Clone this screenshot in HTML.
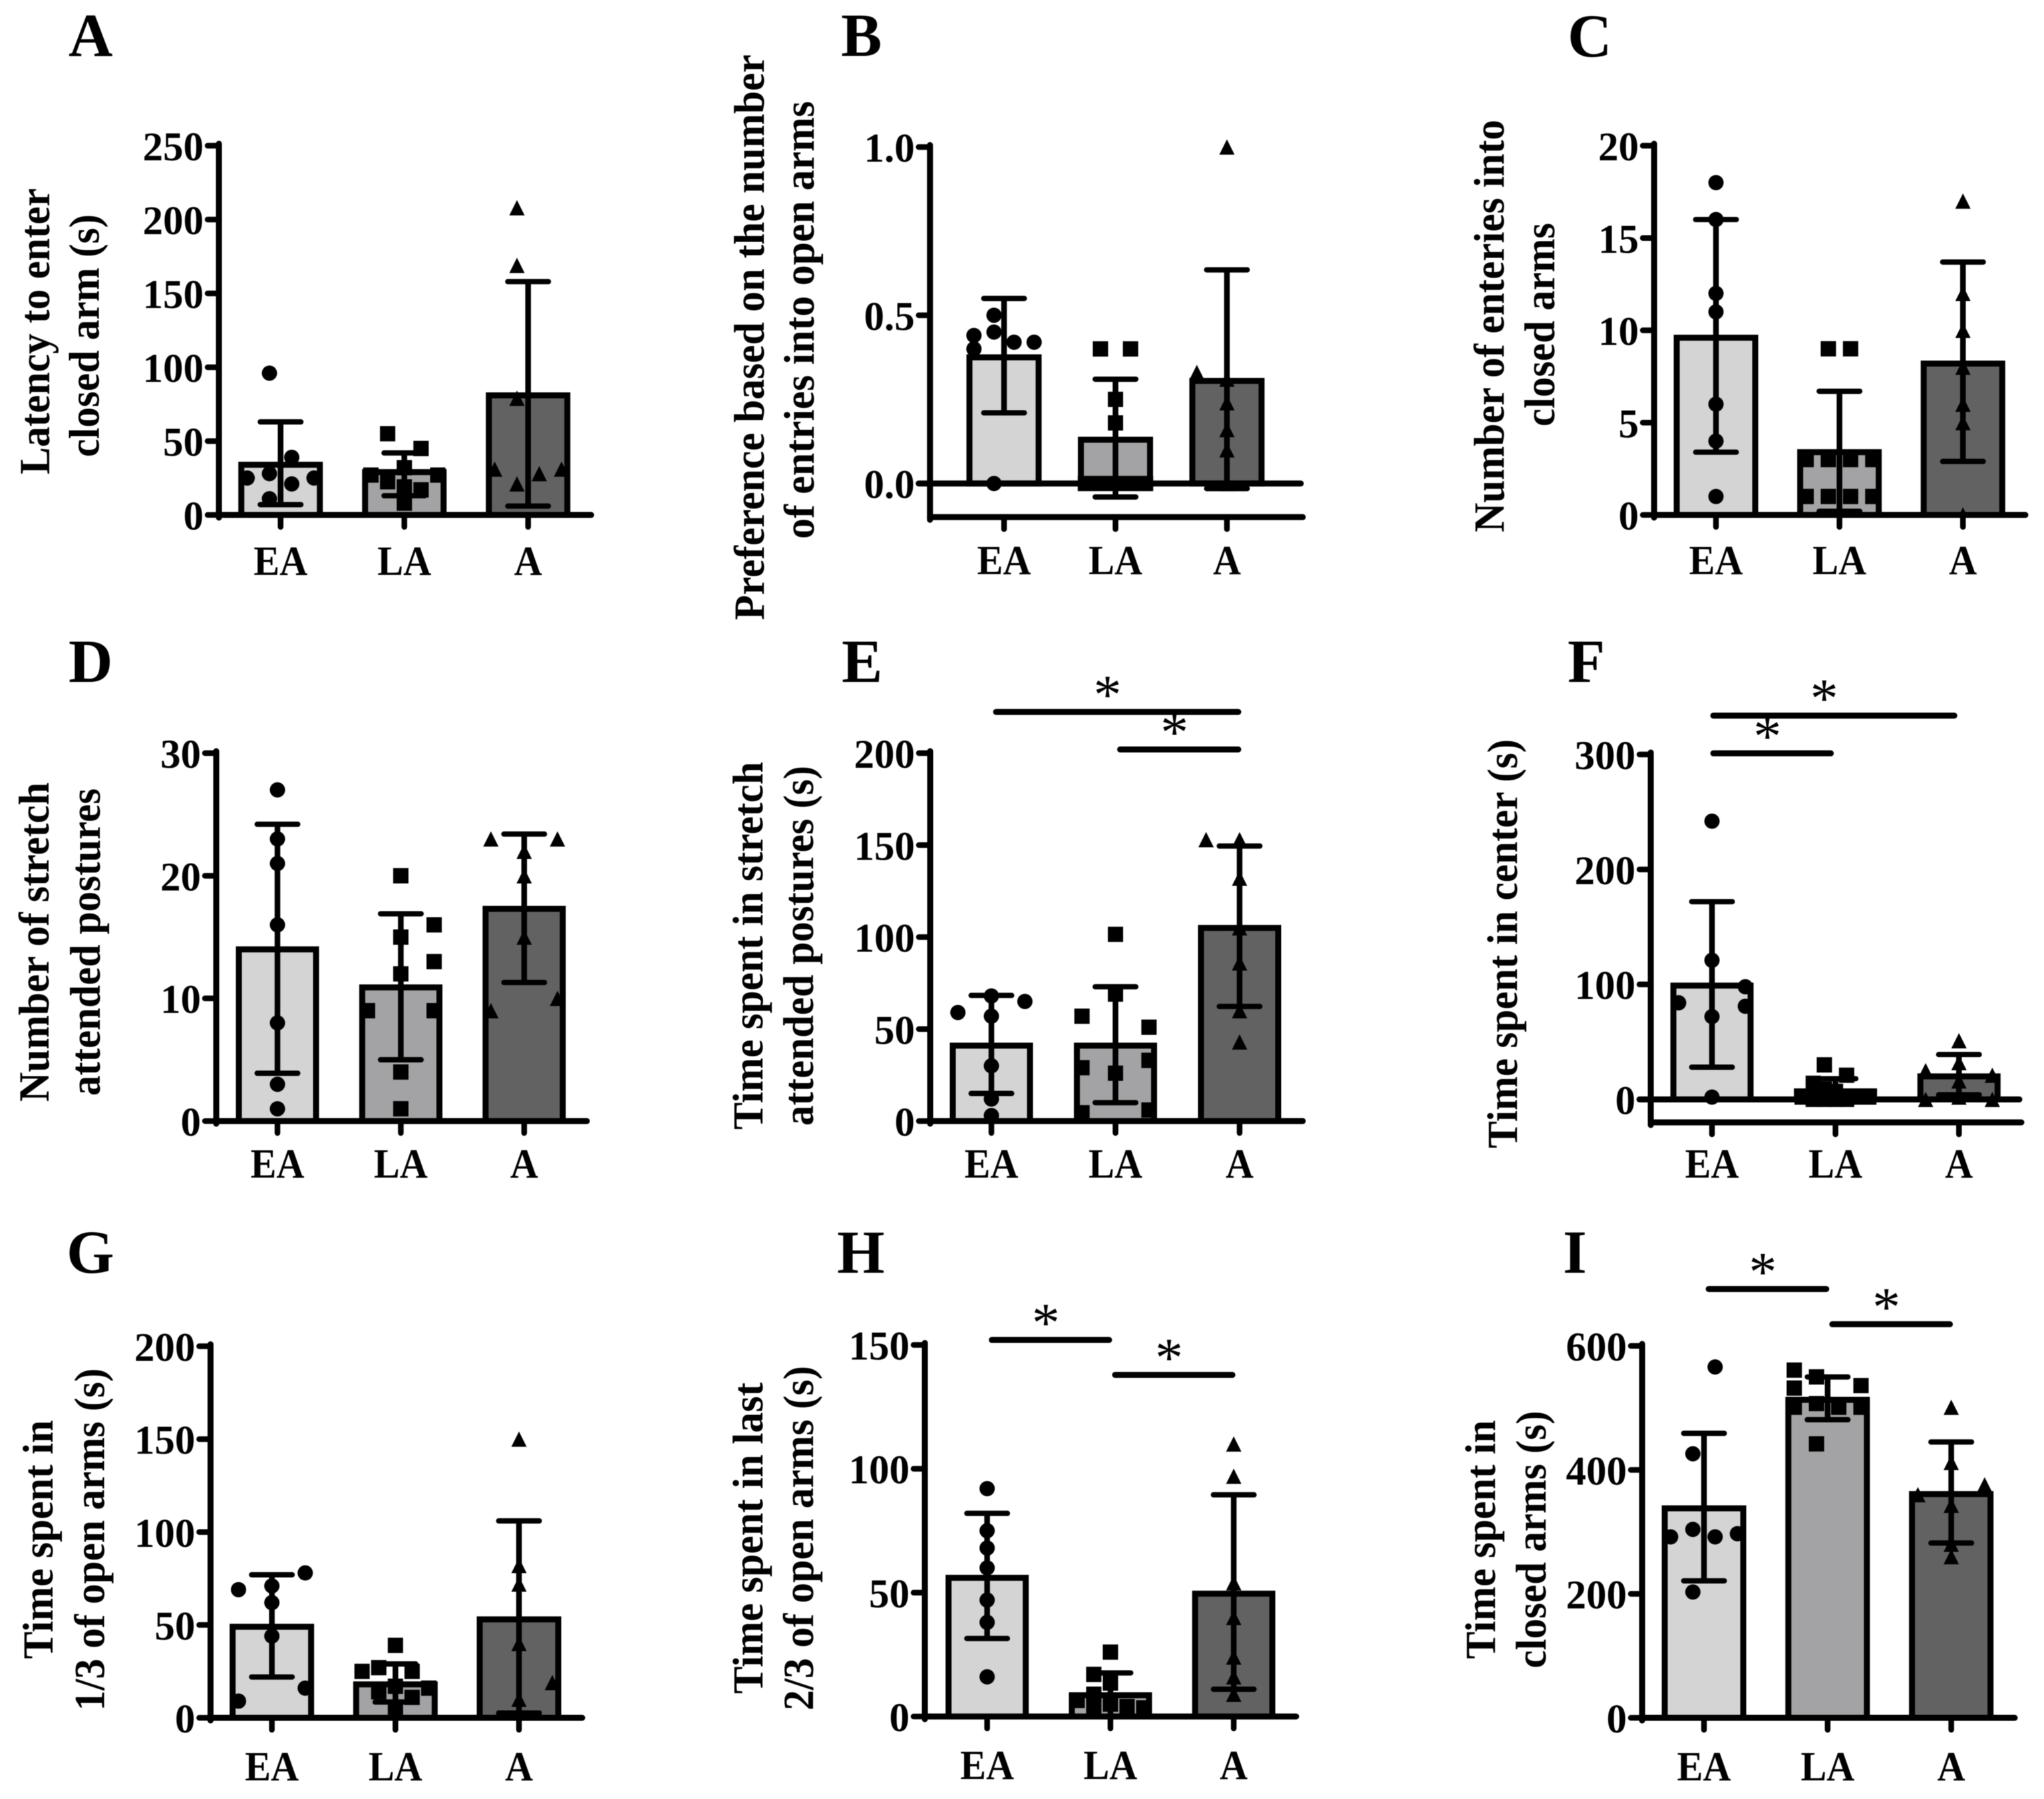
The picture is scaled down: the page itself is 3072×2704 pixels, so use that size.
<!DOCTYPE html>
<html lang="en">
<head>
<meta charset="utf-8">
<title>Behavioural measures across EA, LA and A groups</title>
<style>
  html, body { margin: 0; padding: 0; background: #ffffff; }
  #figure { display: block; width: 3072px; height: 2704px; background: #ffffff; filter: blur(0.6px); }
  text { font-family: "Liberation Serif", "Times New Roman", serif; font-weight: bold; fill: #000; }
  .letter { font-size: 92px; }
  .title { font-size: 65px; text-anchor: middle; }
  .tick { font-size: 61px; text-anchor: end; }
  .cat { font-size: 62px; text-anchor: middle; }
  .star { font-size: 84px; font-weight: normal; text-anchor: middle; }
</style>
</head>
<body>
<svg id="figure" width="3072" height="2704" viewBox="0 0 3072 2704">
  <g id="panel-a">
    <text class="letter" x="103" y="84">A</text>
    <text class="title" transform="translate(74,498) rotate(-90)" textLength="430" lengthAdjust="spacingAndGlyphs">Latency to enter</text>
    <text class="title" transform="translate(148.5,504.5) rotate(-90)" textLength="365" lengthAdjust="spacingAndGlyphs">closed arm (s)</text>
  </g>
  <g id="panel-b">
    <text class="letter" x="1264" y="84">B</text>
    <text class="title" transform="translate(1148,507) rotate(-90)" textLength="850" lengthAdjust="spacingAndGlyphs">Preference based on the number</text>
    <text class="title" transform="translate(1223,481) rotate(-90)" textLength="658" lengthAdjust="spacingAndGlyphs">of entries into open arms</text>
  </g>
  <g id="panel-c">
    <text class="letter" x="2356" y="85">C</text>
    <text class="title" transform="translate(2260,490) rotate(-90)" textLength="620" lengthAdjust="spacingAndGlyphs">Number of enteries into</text>
    <text class="title" transform="translate(2336,488) rotate(-90)" textLength="306" lengthAdjust="spacingAndGlyphs">closed arms</text>
  </g>
  <g id="panel-d">
    <text class="letter" x="103" y="1025">D</text>
    <text class="title" transform="translate(73,1416) rotate(-90)" textLength="480" lengthAdjust="spacingAndGlyphs">Number of stretch</text>
    <text class="title" transform="translate(150,1416) rotate(-90)" textLength="462" lengthAdjust="spacingAndGlyphs">attended postures</text>
  </g>
  <g id="panel-e">
    <text class="letter" x="1265" y="1025">E</text>
    <text class="title" transform="translate(1146,1421.5) rotate(-90)" textLength="553" lengthAdjust="spacingAndGlyphs">Time spent in stretch</text>
    <text class="title" transform="translate(1222,1421.5) rotate(-90)" textLength="541" lengthAdjust="spacingAndGlyphs">attended postures (s)</text>
  </g>
  <g id="panel-f">
    <text class="letter" x="2356" y="1025">F</text>
    <text class="title" transform="translate(2280,1418.5) rotate(-90)" textLength="615" lengthAdjust="spacingAndGlyphs">Time spent in center (s)</text>
  </g>
  <g id="panel-g">
    <text class="letter" x="100" y="1913">G</text>
    <text class="title" transform="translate(79,2314) rotate(-90)" textLength="359" lengthAdjust="spacingAndGlyphs">Time spent in</text>
    <text class="title" transform="translate(156.6,2314) rotate(-90)" textLength="515" lengthAdjust="spacingAndGlyphs">1/3 of open arms (s)</text>
  </g>
  <g id="panel-h">
    <text class="letter" x="1258" y="1913">H</text>
    <text class="title" transform="translate(1146,2312) rotate(-90)" textLength="468" lengthAdjust="spacingAndGlyphs">Time spent in last</text>
    <text class="title" transform="translate(1222,2312) rotate(-90)" textLength="518" lengthAdjust="spacingAndGlyphs">2/3 of open arms (s)</text>
  </g>
  <g id="panel-i">
    <text class="letter" x="2349" y="1913">I</text>
    <text class="title" transform="translate(2247,2314) rotate(-90)" textLength="359" lengthAdjust="spacingAndGlyphs">Time spent in</text>
    <text class="title" transform="translate(2323,2314) rotate(-90)" textLength="387" lengthAdjust="spacingAndGlyphs">closed arms (s)</text>
  </g>
</svg>
<script>
// Shared categories
const categories = ['EA', 'LA', 'A'];

// Panel A
const panelA_tickLabels = ['0', '50', '100', '150', '200', '250'];
const panelA_means = [34, 29, 81];
const panelA_upper = [63, 42, 158];
const panelA_lower = [7, 13, 6];
const panelA_EA_values = [96, 39, 28, 25, 25, 21, 11];
const panelA_EA_slots = [-1, 1, -1, -3, 3, 1, -1];
const panelA_LA_values = [55, 45, 32, 27, 27, 22.5, 19, 17, 8];
const panelA_LA_slots = [-1.5, 1.5, 0, -3, 3, -1.5, 0, 1.5, 0];
const panelA_A_values = [208, 169, 79, 31, 28, 31, 21];
const panelA_A_slots = [-1, -1, -1, -3, 1, 3, -1];

// Panel B
const panelB_tickLabels = ['0.0', '0.5', '1.0'];
const panelB_means = [0.375, 0.13, 0.305];
const panelB_upper = [0.55, 0.31, 0.635];
const panelB_lower = [0.21, -0.04, -0.015];
const panelB_EA_values = [0.5, 0.45, 0.44, 0.4, 0.42, 0.42, 0];
const panelB_EA_slots = [-1, -1, -3, -3, 1, 3, -1];
const panelB_LA_values = [0.4, 0.4, 0.25, 0.18, 0, 0, 0, 0, 0];
const panelB_LA_slots = [-1.5, 1.5, 0, 0, -3, -1.5, 0, 1.5, 3];
const panelB_A_values = [1, 0.33, 0.31, 0.24, 0.16, 0.1, 0];
const panelB_A_slots = [0, -3, 0, 0, 0, 0, 0];

// Panel C
const panelC_tickLabels = ['0', '5', '10', '15', '20'];
const panelC_means = [9.6, 3.4, 8.2];
const panelC_upper = [16, 6.7, 13.7];
const panelC_lower = [3.4, 0.2, 2.9];
const panelC_EA_values = [18, 16, 12, 11, 6, 4, 1];
const panelC_EA_slots = [0, 0, 0, 0, 0, 0, 0];
const panelC_LA_values = [9, 9, 3, 3, 3, 3, 1, 1, 1, 1];
const panelC_LA_slots = [-1, 1, -3, -1, 1, 3, -3, -1, 1, 3];
const panelC_A_values = [17, 12, 10, 8, 6, 5, 0];
const panelC_A_slots = [0, 0, 0, 0, 0, 0, 0];

// Panel D
const panelD_tickLabels = ['0', '10', '20', '30'];
const panelD_means = [14, 10.9, 17.3];
const panelD_upper = [24.2, 16.9, 23.4];
const panelD_lower = [3.9, 5, 11.3];
const panelD_EA_values = [27, 23, 21, 16, 8, 3, 1];
const panelD_EA_slots = [0, 0, 0, 0, 0, 0, 0];
const panelD_LA_values = [20, 16, 15, 13, 12, 9, 9, 4, 1];
const panelD_LA_slots = [0, 3, 0, 3, 0, -3, 3, 0, 0];
const panelD_A_values = [23, 23, 22, 20, 15, 10, 9];
const panelD_A_slots = [-3, 3, 0, 0, 0, 3, -3];

// Panel E
const panelE_tickLabels = ['0', '50', '100', '150', '200'];
const panelE_means = [41, 41, 105];
const panelE_upper = [68.3, 73, 149.5];
const panelE_lower = [15, 10, 62.3];
const panelE_EA_values = [68, 65, 59, 57, 30, 12, 3];
const panelE_EA_slots = [0, 3, -3, 0, 0, 0, 0];
const panelE_LA_values = [101.5, 69, 57, 51, 33, 29, 26, 6, 4.5];
const panelE_LA_slots = [0, 0, -3, 3, 3, -3, 0, 3, -3];
const panelE_A_values = [153, 153, 132, 105, 86, 60, 43];
const panelE_A_slots = [-3, 0, 0, 0, 0, 0, 0];
const panelE_sigFrom = [0, 1];
const panelE_sigTo = [2, 2];
const panelE_sigLevel = [222.4, 202];

// Panel F
const panelF_tickLabels = ['0', '100', '200', '300'];
const panelF_means = [99, 7, 20];
const panelF_upper = [172, 18, 39];
const panelF_lower = [28, 0, 4];
const panelF_EA_values = [242, 121, 98, 84, 81, 72, 2];
const panelF_EA_slots = [0, 0, 3, -3, 3, 0, 0];
const panelF_LA_values = [30, 21, 14, 9, 7, 2, 0, 0, 0, 0, 2, 2];
const panelF_LA_slots = [-1, 1, -2, -1, 0, -3, -2, -1, 0, 1, 2, 3];
const panelF_A_values = [51, 32, 25, 21, 16, 0, 0, 2];
const panelF_A_slots = [0, 0, -3, 3, 0, -3, 3, 0];
const panelF_sigFrom = [0, 0];
const panelF_sigTo = [2, 1];
const panelF_sigLevel = [333.8, 301];

// Panel G
const panelG_tickLabels = ['0', '50', '100', '150', '200'];
const panelG_means = [49, 18, 53];
const panelG_upper = [77, 29, 106];
const panelG_lower = [22, 8.5, 2.6];
const panelG_EA_values = [78, 69, 71, 62, 44, 16, 9];
const panelG_EA_slots = [3, -3, 0, 0, 0, 3, -3];
const panelG_LA_values = [39, 27, 25, 25, 17, 16, 14, 11, 4];
const panelG_LA_slots = [0, -1.5, 1.5, -3, 0, 3, -1.5, 1.5, 0];
const panelG_A_values = [150, 82, 72, 40, 19, 10, 0];
const panelG_A_slots = [0, 0, 0, 0, 3, 0, 0];

// Panel H
const panelH_tickLabels = ['0', '50', '100', '150'];
const panelH_means = [56, 8.6, 49.6];
const panelH_upper = [82, 17.6, 89.5];
const panelH_lower = [31.5, 0, 11];
const panelH_EA_values = [92, 75, 68, 60, 47, 38, 16];
const panelH_EA_slots = [0, 0, 0, 0, 0, 0, 0];
const panelH_LA_values = [26, 17, 13.5, 9, 6.5, 5, 4, 4, 3.5];
const panelH_LA_slots = [0, -1.5, 0, -1.5, -3, 0, -1.5, 1.5, 3];
const panelH_A_values = [110, 97, 54, 40, 24, 16, 9];
const panelH_A_slots = [0, 0, 0, 0, 0, 0, 0];
const panelH_sigFrom = [0, 1];
const panelH_sigTo = [1, 2];
const panelH_sigLevel = [152, 137.9];

// Panel I
const panelI_tickLabels = ['0', '200', '400', '600'];
const panelI_means = [338, 513, 361];
const panelI_upper = [459, 550, 445];
const panelI_lower = [221, 481, 282];
const panelI_EA_values = [566, 426, 304, 292, 292, 297, 203];
const panelI_EA_slots = [1, -1, -1, 1, -3, 3, -1];
const panelI_LA_values = [561, 532, 550, 536, 501, 507, 501, 501, 442];
const panelI_LA_slots = [-3, -3, -1, 3, -3, -1, 1, 3, -1];
const panelI_A_values = [501, 412, 376, 360, 343, 280, 260];
const panelI_A_slots = [0, 0, 3, -3, 0, 0, 0];
const panelI_sigFrom = [0, 1];
const panelI_sigTo = [1, 2];
const panelI_sigLevel = [691.8, 635];

const barFills = ['#d4d4d4', '#a3a3a5', '#626262'];
const svgRoot = document.getElementById('figure');
const svgNS = svgRoot.namespaceURI;

function make(tag, parent, attrs) {
  const node = document.createElementNS(svgNS, tag);
  for (const key in attrs) node.setAttribute(key, attrs[key]);
  parent.appendChild(node);
  return node;
}

function line(parent, x1, y1, x2, y2, width, cap) {
  return make('line', parent, { x1: x1, y1: y1, x2: x2, y2: y2, stroke: '#000', 'stroke-width': width, 'stroke-linecap': cap || 'round' });
}

function drawMarker(parent, shape, cx, cy, name) {
  const size = 23;
  let el;
  if (shape === 0) {
    el = make('circle', parent, { cx: cx, cy: cy, r: size / 2, fill: '#000' });
  } else if (shape === 1) {
    el = make('rect', parent, { x: cx - size / 2, y: cy - size / 2, width: size, height: size, fill: '#000' });
  } else {
    el = make('polygon', parent, { points: (cx - size / 2) + ',' + (cy + size / 2) + ' ' + (cx + size / 2) + ',' + (cy + size / 2) + ' ' + cx + ',' + (cy - size / 2), fill: '#000' });
  }
  
  
}

function drawPanel(p) {
  const root = document.getElementById(p.id);
  const unit = (p.bot - p.top) / (p.max - p.min);
  const yScale = function (v) { return p.bot - (v - p.min) * unit; };
  const xScale = function (i) { return p.c0 + i * p.step; };
  const slotPx = p.step * 0.09;
  const capHalf = 30.5;
  const sigDx = p.sigDx || 0;

  categories.forEach(function (cat, i) {
    const cx = xScale(i);
    const bar = make('rect', root, {
      x: cx - (p.bw - 9) / 2, y: yScale(p.means[i]), width: p.bw - 9,
      height: yScale(0) - yScale(p.means[i]), fill: barFills[i], stroke: '#000', 'stroke-width': 9
    });
    
    
  });

  const defs = make('defs', root, {});
  const clip = make('clipPath', defs, { id: p.id + '-clip' });
  make('rect', clip, { x: p.ax, y: 0, width: p.right - p.ax, height: (p.min < 0 ? p.bot : yScale(0)) });
  const pointGroup = make('g', root, { 'clip-path': 'url(#' + p.id + '-clip)' });
  
  

  categories.forEach(function (cat, i) {
    p.values[i].forEach(function (v, k) {
      drawMarker(pointGroup, i, xScale(i) + p.slots[i][k] * slotPx, yScale(v), 'point-' + cat.toLowerCase());
    });
  });

  categories.forEach(function (cat, i) {
    const cx = xScale(i);
    const stem = line(root, cx, yScale(p.upper[i]), cx, yScale(p.lower[i]), 8.5, 'butt');
    
    
    const capTop = line(root, cx - capHalf, yScale(p.upper[i]), cx + capHalf, yScale(p.upper[i]), 8);
    
    
    const capLow = line(root, cx - capHalf, yScale(p.lower[i]), cx + capHalf, yScale(p.lower[i]), 8);
    
    
  });

  const yAxis = line(root, p.ax, p.top - 3, p.ax, p.bot + 4, 9);
  
  
  const xAxis = line(root, p.ax, p.bot, p.right - 4, p.bot, 9);
  
  

  if (p.min < 0) {
    const zero = line(root, p.ax - 17, yScale(0), p.right - 7, yScale(0), 9);
    
    
  }

  p.tickLabels.forEach(function (label) {
    const y = yScale(parseFloat(label));
    const tick = line(root, p.ax - 17, y, p.ax, y, 8.5);
    
    
    const text = make('text', root, { x: p.ax - 23, y: y + 22, class: 'tick' });
    text.textContent = label;
    
    
  });

  categories.forEach(function (cat, i) {
    const cx = xScale(i);
    const tick = line(root, cx, p.bot, cx, p.bot + 18, 8.5);
    
    
    const text = make('text', root, { x: cx, y: p.labelY, class: 'cat' });
    text.textContent = cat;
    
    
    text.setAttribute('textLength', text.getComputedTextLength() * 0.94);
    text.setAttribute('lengthAdjust', 'spacingAndGlyphs');
  });

  (p.sigFrom || []).forEach(function (from, k) {
    const x1 = xScale(from) + 7 + sigDx;
    const x2 = xScale(p.sigTo[k]) - 2 + sigDx;
    const y = yScale(p.sigLevel[k]);
    const sig = line(root, x1, y, x2, y, 9);
    
    
    const star = make('text', root, { x: (x1 + x2) / 2 - (x2 - x1) * 0.04, y: y + 2, class: 'star' });
    star.textContent = '*';
    
    
  });
}

const panels = [
  { id: 'panel-a', ax: 329, c0: 421.7, step: 186, top: 219, bot: 774, min: 0, max: 250, bw: 127, right: 892.5, labelY: 864,
    tickLabels: panelA_tickLabels, means: panelA_means, upper: panelA_upper, lower: panelA_lower,
    values: [panelA_EA_values, panelA_LA_values, panelA_A_values], slots: [panelA_EA_slots, panelA_LA_slots, panelA_A_slots] },
  { id: 'panel-b', ax: 1397.7, c0: 1509, step: 167.5, top: 221, bot: 777.3, min: -0.1, max: 1, bw: 113, right: 1962, labelY: 863,
    tickLabels: panelB_tickLabels, means: panelB_means, upper: panelB_upper, lower: panelB_lower,
    values: [panelB_EA_values, panelB_LA_values, panelB_A_values], slots: [panelB_EA_slots, panelB_LA_slots, panelB_A_slots] },
  { id: 'panel-c', ax: 2486, c0: 2579, step: 185.6, top: 219, bot: 774, min: 0, max: 20, bw: 127, right: 3048, labelY: 863,
    tickLabels: panelC_tickLabels, means: panelC_means, upper: panelC_upper, lower: panelC_lower,
    values: [panelC_EA_values, panelC_LA_values, panelC_A_values], slots: [panelC_EA_slots, panelC_LA_slots, panelC_A_slots] },
  { id: 'panel-d', ax: 325, c0: 417, step: 185.4, top: 1132, bot: 1685, min: 0, max: 30, bw: 125, right: 886, labelY: 1770,
    tickLabels: panelD_tickLabels, means: panelD_means, upper: panelD_upper, lower: panelD_lower,
    values: [panelD_EA_values, panelD_LA_values, panelD_A_values], slots: [panelD_EA_slots, panelD_LA_slots, panelD_A_slots] },
  { id: 'panel-e', ax: 1398, c0: 1490, step: 186.5, top: 1132, bot: 1685, min: 0, max: 200, bw: 125, right: 1962, labelY: 1770,
    tickLabels: panelE_tickLabels, means: panelE_means, upper: panelE_upper, lower: panelE_lower,
    values: [panelE_EA_values, panelE_LA_values, panelE_A_values], slots: [panelE_EA_slots, panelE_LA_slots, panelE_A_slots],
    sigFrom: panelE_sigFrom, sigTo: panelE_sigTo, sigLevel: panelE_sigLevel },
  { id: 'panel-f', ax: 2481, c0: 2573, step: 185.6, top: 1134, bot: 1687, min: -20, max: 300, bw: 125, right: 3042, labelY: 1770, sigDx: -5,
    tickLabels: panelF_tickLabels, means: panelF_means, upper: panelF_upper, lower: panelF_lower,
    values: [panelF_EA_values, panelF_LA_values, panelF_A_values], slots: [panelF_EA_slots, panelF_LA_slots, panelF_A_slots],
    sigFrom: panelF_sigFrom, sigTo: panelF_sigTo, sigLevel: panelF_sigLevel },
  { id: 'panel-g', ax: 316.4, c0: 408.6, step: 185.7, top: 2023.5, bot: 2582, min: 0, max: 200, bw: 127, right: 879, labelY: 2676,
    tickLabels: panelG_tickLabels, means: panelG_means, upper: panelG_upper, lower: panelG_lower,
    values: [panelG_EA_values, panelG_LA_values, panelG_A_values], slots: [panelG_EA_slots, panelG_LA_slots, panelG_A_slots] },
  { id: 'panel-h', ax: 1390, c0: 1483.6, step: 185.3, top: 2021.5, bot: 2580, min: 0, max: 150, bw: 125, right: 1952, labelY: 2674,
    tickLabels: panelH_tickLabels, means: panelH_means, upper: panelH_upper, lower: panelH_lower,
    values: [panelH_EA_values, panelH_LA_values, panelH_A_values], slots: [panelH_EA_slots, panelH_LA_slots, panelH_A_slots],
    sigFrom: panelH_sigFrom, sigTo: panelH_sigTo, sigLevel: panelH_sigLevel },
  { id: 'panel-i', ax: 2468, c0: 2561, step: 185.8, top: 2023, bot: 2582, min: 0, max: 600, bw: 127, right: 3032, labelY: 2676,
    tickLabels: panelI_tickLabels, means: panelI_means, upper: panelI_upper, lower: panelI_lower,
    values: [panelI_EA_values, panelI_LA_values, panelI_A_values], slots: [panelI_EA_slots, panelI_LA_slots, panelI_A_slots],
    sigFrom: panelI_sigFrom, sigTo: panelI_sigTo, sigLevel: panelI_sigLevel }
];

panels.forEach(drawPanel);
</script>
</body>
</html>
